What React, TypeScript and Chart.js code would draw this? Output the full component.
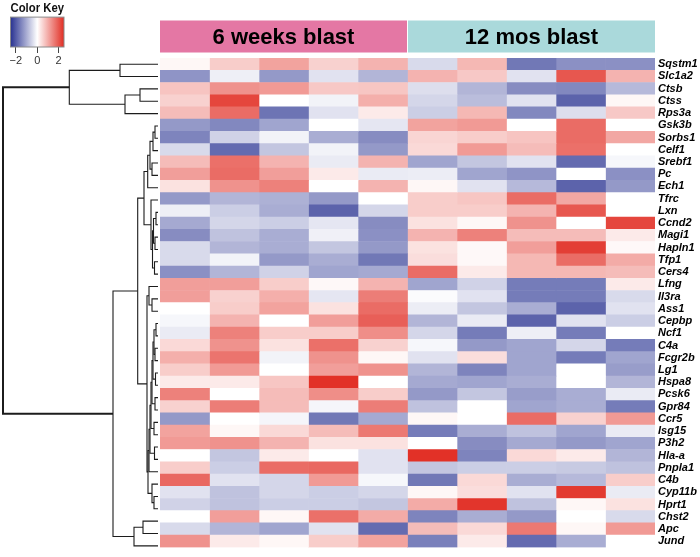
import React, { useEffect, useRef } from 'react';
import { Chart, registerables } from 'chart.js';

Chart.register(...registerables);

const FONT = '"Liberation Sans", Arial, Helvetica, sans-serif';

// ---------------- data ----------------
const rowLabels = [
  'Sqstm1', 'Slc1a2', 'Ctsb', 'Ctss', 'Rps3a', 'Gsk3b', 'Sorbs1', 'Celf1', 'Srebf1', 'Pc',
  'Ech1', 'Tfrc', 'Lxn', 'Ccnd2', 'Magi1', 'Hapln1', 'Tfp1', 'Cers4', 'Lfng', 'Il3ra',
  'Ass1', 'Cepbp', 'Ncf1', 'C4a', 'Fcgr2b', 'Lg1', 'Hspa8', 'Pcsk6', 'Gpr84', 'Ccr5',
  'Isg15', 'P3h2', 'Hla-a', 'Pnpla1', 'C4b', 'Cyp11b', 'Hprt1', 'Chst2', 'Apc', 'Jund',
];

const wk6_1 = [0.1, -1.3, 0.7, 0.55, 0.8, -1.25, -1.5, -0.45, 0.8, 1.15, 0.35, -1.25, -0.2, -1.05, -1.4, -0.45, -0.45, -1.35, 1.15, 1.15, 0, -0.1, -0.25, 0.45, 0.95, 0.6, 0.25, 1.5, 0.55, -1.25, 1.1, 1.2, 0, 0.6, 1.8, -0.35, -0.55, 0, -0.45, 1.3];
const wk6_2 = [0.6, -0.2, 1.3, 2.2, 1.75, -1.45, -0.55, -1.8, 1.7, 1.75, 1.3, -0.9, -0.6, -0.5, -0.75, -0.9, -0.15, -0.9, 1.15, 0.55, 0.6, 0.9, 1.5, 1.3, 1.65, 1.2, 0.25, 0, 1.55, 0, 0.1, 1.3, -0.7, -0.6, -0.35, -0.75, -0.75, 1.15, -0.9, 0.25];
const wk6_3 = [1.1, -1.25, 1.2, 0, -1.7, -1.1, -0.15, -0.7, 0.9, 1.15, 1.5, -0.95, -1.0, -0.6, -1.0, -1.0, -1.25, -0.55, 0.6, 0.95, 1.1, 0, 0.6, 0.35, -0.15, 0, 0.68, 0.8, 0.8, -0.12, 0.45, 0.9, 0.25, 1.75, -0.5, -0.5, -0.6, 0.1, -1.1, 0.1];
const wk6_4 = [0.55, -0.35, 0.65, -0.15, -0.35, 0, -1.0, -0.15, -0.25, 0.25, 0, -1.25, -1.9, -0.3, -0.18, -0.7, -1.0, -1.1, 0.08, -0.3, 0.35, 1.15, 0.6, 1.7, 1.3, 1.15, 2.45, 1.35, -0.12, -1.65, 0.8, 0.35, 0, 1.8, 1.2, -0.6, -0.6, 1.7, -0.35, 0.6];
const wk6_5 = [0.9, -0.9, 0.68, 0.95, 0.25, -0.3, -1.4, -1.25, 0.9, -0.25, 0.9, 0, -0.5, -1.4, -1.35, -1.25, -1.65, -1.05, 0.9, 1.55, 1.75, 1.9, 1.35, 0.55, 0.1, 1.3, 0, 0.6, 1.55, -1.05, 1.6, 0.35, -0.35, -0.35, -0.1, -0.5, -0.7, 1.0, -1.8, 1.1];
const mo12_1 = [-0.45, 0.9, -0.4, -0.5, -0.6, 1.1, 0.5, 0.45, -1.1, -0.22, 0.1, 0.6, 0.6, 0.35, 0.9, 0.35, 0.4, 1.75, -1.1, -0.05, -0.22, -0.9, -0.5, -0.1, -0.35, -0.9, -1.05, -1.25, -0.75, 0.1, -1.6, 0, 2.45, -0.7, -1.65, 0.1, 1.0, -1.5, 0.8, -1.55];
const mo12_2 = [0.85, 0.65, -0.9, -0.8, 0.85, 1.2, 0.6, 1.2, -0.7, -1.1, -0.35, 0.68, 0.6, 0.1, 1.5, 0.08, 0.08, 0.25, -0.55, -0.35, -0.7, -0.25, -1.6, -1.25, 0.4, -1.5, -1.1, -0.7, 0, 0, -1.0, -1.4, -1.5, -0.6, 0.45, 0.4, 2.4, -1.0, 0.45, 0.25];
const mo12_3 = [-1.65, -0.35, -1.4, -0.35, -1.45, 0, 0.7, 0.8, -0.35, -1.3, -0.85, 1.75, 0.9, 1.3, 0.8, 1.15, 0.85, 0.85, -1.6, -1.6, -1.0, -1.9, -0.2, -1.1, -1.1, -1.1, -1.0, -1.2, -1.1, 1.75, -0.75, -1.05, 0.45, -0.6, -1.0, -0.35, -0.75, -1.25, 1.6, -1.8];
const mo12_4 = [-1.35, 2.0, -1.45, -1.9, -0.4, 1.75, 1.75, 1.7, -1.8, 0, -1.9, 1.05, 2.0, 0, 0.8, 2.3, 1.75, 0.85, -1.6, -1.6, -1.9, -0.35, -1.6, -0.5, -1.6, 0, 0, -1.0, -1.0, 0.55, -1.1, -1.25, 0.25, -0.65, -0.85, 2.35, 0.1, 0, 0.1, -1.0];
const mo12_5 = [-1.35, 0.9, -0.85, 0.1, 0.65, 0, 1.05, 0, -0.1, -1.35, -1.25, 0, 0, 2.2, 0.25, 0.08, 1.0, 0.8, 0.25, -0.45, -0.35, -0.6, 0, -1.6, -1.1, -1.2, -0.9, -0.25, -1.6, 1.2, -0.25, -1.1, -0.9, -0.75, 0.6, -0.25, 0.35, -0.45, 1.2, 0];

const sampleColumns = [wk6_1, wk6_2, wk6_3, wk6_4, wk6_5, mo12_1, mo12_2, mo12_3, mo12_4, mo12_5];

const groupLabels = ['6 weeks blast', '12 mos blast'];
const groupStart = [0, 5];
const groupEnd = [5, 10];
const groupColors = ['#E477A4', '#AAD9DB'];

const keyTicks = [-2, -1, 0, 1, 2];
const keyLabelled = [-2, 0, 2];

// row dendrogram (hclust-style merges; negative = leaf row index + 1, positive = earlier merge)
const mergeLeft = [-22, -24, 1, -26, 3, -28, 5, -30, 7, -32, 9, 11, -36, -35, 12, -20, -19, 17, -6, 19, -9, 20, 22, -13, -15, 24, -17, 26, -12, 23, 30, -38, 32, 31, -1, -3, 36, 35, 38];
const mergeRight = [-23, -25, 2, -27, 4, -29, 6, -31, 8, -33, 10, -34, -37, 13, 14, -21, 16, 15, -7, -8, -10, 21, -11, -14, -16, 25, -18, 27, 28, 29, 18, -39, -40, 33, -2, -4, -5, 37, 34];
const mergeHeight = [2, 3, 4, 2.5, 5, 3, 6, 4, 7, 3.5, 8, 9, 4, 6, 10, 6, 9, 11, 3, 5, 6, 8, 10.3, 2, 3, 4.5, 3.5, 5.5, 7, 14, 20.3, 15, 24, 45, 38, 18, 33, 88.7, 155];

// ---------------- helpers ----------------
const LOW = [40, 50, 145];
const HIGH = [225, 45, 35];
function valueColor(v: number): string {
  const t = Math.max(-1, Math.min(1, v / 2.5));
  const end = t < 0 ? LOW : HIGH;
  const a = Math.abs(t);
  const c = end.map((e) => Math.round(255 + (e - 255) * a));
  return `rgb(${c[0]},${c[1]},${c[2]})`;
}

function buildDendrogram() {
  const pos: number[] = [];
  const hts: number[] = [];
  const segs: { x: number; y: number }[][] = [];
  const info = (code: number) =>
    code < 0 ? { p: -code - 1 + 0.5, h: 0 } : { p: pos[code - 1], h: hts[code - 1] };
  for (let k = 0; k < mergeLeft.length; k++) {
    const L = info(mergeLeft[k]);
    const R = info(mergeRight[k]);
    const h = mergeHeight[k];
    pos[k] = (L.p + R.p) / 2;
    hts[k] = h;
    segs.push([
      { x: L.h, y: L.p },
      { x: h, y: L.p },
      { x: h, y: R.p },
      { x: R.h, y: R.p },
    ]);
  }
  return segs;
}

const abs = (l: number, t: number, w: number, h: number): React.CSSProperties => ({
  position: 'absolute', left: l, top: t, width: w, height: h,
});

export default function App() {
  const keyRef = useRef<HTMLCanvasElement>(null);
  const dendRef = useRef<HTMLCanvasElement>(null);
  const heatRef = useRef<HTMLCanvasElement>(null);

  useEffect(() => {
    Chart.defaults.font.family = FONT;
    const charts: Chart[] = [];

    // ---------- colour key ----------
    const gradientPlugin = {
      id: 'keyGradient',
      beforeDatasetsDraw(chart: any) {
        const { ctx, chartArea: a } = chart;
        const g = ctx.createLinearGradient(a.left, 0, a.right, 0);
        g.addColorStop(0, valueColor(-2.5));
        g.addColorStop(0.5, '#ffffff');
        g.addColorStop(1, valueColor(2.5));
        ctx.save();
        ctx.fillStyle = g;
        ctx.fillRect(a.left, a.top, a.right - a.left, a.bottom - a.top);
        ctx.strokeStyle = '#8a8a8a';
        ctx.lineWidth = 1;
        ctx.strokeRect(a.left, a.top, a.right - a.left, a.bottom - a.top);
        ctx.restore();
      },
    };
    charts.push(
      new Chart(keyRef.current!, {
        type: 'scatter',
        data: { datasets: [] },
        plugins: [gradientPlugin],
        options: {
          animation: false,
          responsive: false,
          devicePixelRatio: 1,
          layout: { padding: { left: 10.5, right: 16, top: 0, bottom: 0 } },
          plugins: {
            legend: { display: false },
            tooltip: { enabled: false },
            title: {
              display: true,
              text: 'Color Key',
              align: 'start',
              color: '#111',
              font: { size: 13, weight: 'bold', family: FONT },
              padding: { top: 1, bottom: 0.5 },
            },
          },
          scales: {
            x: {
              type: 'linear',
              min: -2.5,
              max: 2.5,
              afterBuildTicks: (s: any) => { s.ticks = keyTicks.map((v) => ({ value: v })); },
              afterFit: (s: any) => { s.height = 25; },
              grid: { display: true, drawOnChartArea: false, drawTicks: true, tickLength: 6, color: '#444' },
              border: { display: false },
              ticks: {
                color: '#333',
                padding: 1,
                font: { size: 11, family: FONT },
                maxRotation: 0,
                callback: (v: any) => (keyLabelled.includes(Number(v)) ? String(v).replace('-', '\u2212') : ''),
              },
            },
            y: { display: false, min: 0, max: 1 },
          },
        },
      } as any)
    );

    // ---------- dendrogram ----------
    const segs = buildDendrogram();
    charts.push(
      new Chart(dendRef.current!, {
        type: 'scatter',
        data: {
          datasets: segs.map((s, i) => ({
            data: s,
            showLine: true,
            pointRadius: 0,
            borderColor: '#1c1c1c',
            borderWidth: i === segs.length - 1 ? 2 : 1.1,
            clip: false,
          })),
        },
        options: {
          animation: false,
          responsive: false,
          devicePixelRatio: 1,
          layout: { padding: { left: 3, right: 2, top: 58, bottom: 5 } },
          plugins: { legend: { display: false }, tooltip: { enabled: false } },
          scales: {
            x: { type: 'linear', display: false, min: 0, max: 155, reverse: true },
            y: { type: 'linear', display: false, min: 0, max: 40, reverse: true },
          },
        },
      } as any)
    );

    // ---------- heatmap ----------
    const headerPlugin = {
      id: 'groupHeader',
      afterDraw(chart: any) {
        const { ctx } = chart;
        const xs = chart.scales.x;
        ctx.save();
        groupLabels.forEach((label, i) => {
          const x0 = xs.getPixelForValue(groupStart[i]) + (i > 0 ? 0.5 : 0);
          const x1 = xs.getPixelForValue(groupEnd[i]) - (i < groupLabels.length - 1 ? 0.5 : 0);
          ctx.fillStyle = groupColors[i];
          ctx.fillRect(x0, 20.5, x1 - x0, 32);
          ctx.fillStyle = '#000';
          ctx.font = `bold 22px ${FONT}`;
          ctx.textAlign = 'center';
          ctx.textBaseline = 'middle';
          ctx.fillText(label, (x0 + x1) / 2, 37.5);
        });
        ctx.restore();
      },
    };
    charts.push(
      new Chart(heatRef.current!, {
        type: 'bar',
        data: {
          labels: rowLabels,
          datasets: sampleColumns.map((col) => ({
            data: rowLabels.map(() => 1),
            backgroundColor: col.map(valueColor),
            borderWidth: 0,
            barPercentage: 1,
            categoryPercentage: 1,
          })),
        },
        plugins: [headerPlugin],
        options: {
          indexAxis: 'y',
          animation: false,
          responsive: false,
          devicePixelRatio: 1,
          layout: { padding: { left: 0, right: 0, top: 58, bottom: 5 } },
          plugins: { legend: { display: false }, tooltip: { enabled: false } },
          scales: {
            x: { type: 'linear', display: false, stacked: true, min: 0, max: 10 },
            y: {
              type: 'category',
              position: 'right',
              stacked: true,
              afterFit: (s: any) => { s.width = 45; },
              grid: { display: false, drawTicks: false, tickLength: 0 },
              border: { display: false },
              ticks: {
                autoSkip: false,
                color: '#000',
                padding: 3,
                font: { size: 11, style: 'italic', weight: 'bold', family: FONT },
              },
            },
          },
        },
      } as any)
    );

    return () => charts.forEach((c) => c.destroy());
  }, []);

  return (
    <div style={{ ...abs(0, 0, 700, 557), background: '#fff', overflow: 'hidden' }}>
      <canvas ref={keyRef} width={80} height={72} style={abs(0, 0, 80, 72)} />
      <canvas ref={dendRef} width={160} height={557} style={abs(0, 0, 160, 557)} />
      <canvas ref={heatRef} width={540} height={557} style={abs(160, 0, 540, 557)} />
    </div>
  );
}
